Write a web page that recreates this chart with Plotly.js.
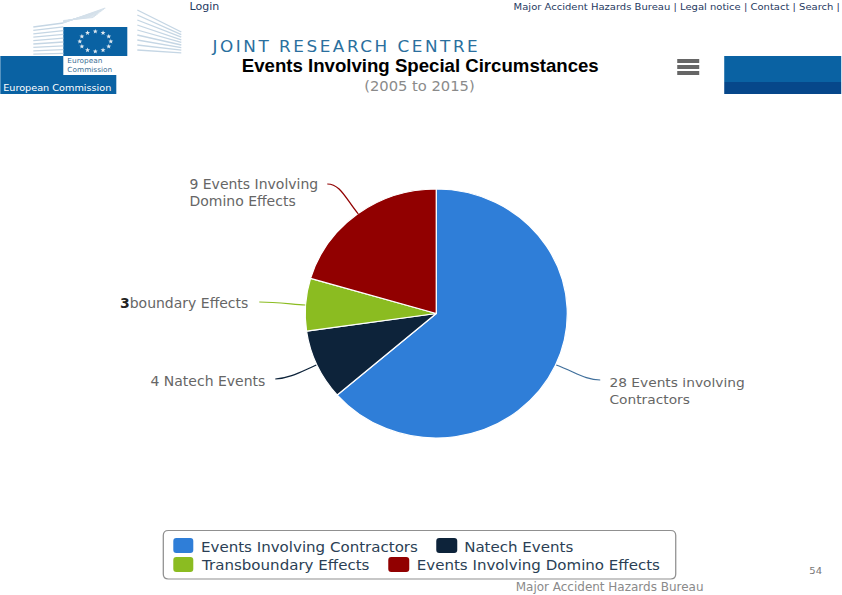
<!DOCTYPE html>
<html><head><meta charset="utf-8">
<script src="https://cdn.plot.ly/plotly-3.0.1.min.js"></script>
<style>html,body{margin:0;padding:0;background:#fff;overflow:hidden}
#chart{width:800px;height:595px;transform:scaleX(1.0525);transform-origin:0 0}
.annotation[data-index="2"] text{letter-spacing:2.4px}</style>
</head><body><div id="chart"></div>
<script>
var categories = ["Events Involving Contractors", "Natech Events", "Transboundary Effects", "Events Involving Domino Effects"];
var counts = [28, 4, 3, 9];
var sliceColors = ["#2f7ed8", "#0d233a", "#8bbc21", "#910000"];
var pieLabels = ["28 Events involving<br>Contractors", "4 Natech Events", "3boundary Effects", "9 Events Involving<br>Domino Effects"];

var W = 800, H = 595, SX = 1.0525;
var mL = 186/SX, mR = W - (686/SX), mT = 189, mB = 157;
var pw = W - mL - mR, ph = H - mT - mB;
function X(px){ return (px/SX - mL)/pw; }
function Y(py){ return 1 - (py - mT)/ph; }
function rect(x0,y0,x1,y1,c){ return {type:"rect",xref:"paper",yref:"paper",x0:X(x0),x1:X(x1),y0:Y(y0),y1:Y(y1),fillcolor:c,line:{width:0},layer:"below"}; }
function seg(x0,y0,x1,y1,c,w){ return {type:"line",xref:"paper",yref:"paper",x0:X(x0),x1:X(x1),y0:Y(y0),y1:Y(y1),line:{color:c,width:w},layer:"below"}; }
function curve(p,c,w){
  return {type:"path",xref:"paper",yref:"paper",
    path:"M"+X(p[0])+","+Y(p[1])+" C"+X(p[2])+","+Y(p[3])+" "+X(p[4])+","+Y(p[5])+" "+X(p[6])+","+Y(p[7]),
    line:{color:c,width:w},layer:"above"};
}
function roundBox(x0,y0,x1,y1,r,fill,lineColor,lineWidth){
  return {type:"path",xref:"paper",yref:"paper",layer:"below",fillcolor:fill,line:{color:lineColor,width:lineWidth},
   path:"M"+X(x0+r)+","+Y(y0)+" L"+X(x1-r)+","+Y(y0)+" Q"+X(x1)+","+Y(y0)+" "+X(x1)+","+Y(y0+r)+
        " L"+X(x1)+","+Y(y1-r)+" Q"+X(x1)+","+Y(y1)+" "+X(x1-r)+","+Y(y1)+
        " L"+X(x0+r)+","+Y(y1)+" Q"+X(x0)+","+Y(y1)+" "+X(x0)+","+Y(y1-r)+
        " L"+X(x0)+","+Y(y0+r)+" Q"+X(x0)+","+Y(y0)+" "+X(x0+r)+","+Y(y0)+" Z"};
}
function star(cx,cy,r,c){
  var p="";
  for (var n=0;n<10;n++){
    var a=n*Math.PI/5, rr=(n%2)?r*0.42:r;
    p+=(n?" L":"M")+X(cx+Math.sin(a)*rr)+","+Y(cy-Math.cos(a)*rr);
  }
  return {type:"path",xref:"paper",yref:"paper",layer:"below",path:p+" Z",fillcolor:c,line:{width:0}};
}
function txt(s,x,y,size,color,anchor,family){
  return {text:s,xref:"paper",yref:"paper",x:X(x),y:Y(y),xanchor:anchor||"left",yanchor:"middle",showarrow:false,align:anchor||"left",
    font:{family:family||"DejaVu Sans",size:size,color:color},borderpad:0};
}

var shapes = [
  rect(0,56,63,75,"#0a62a3"), rect(0,75,116,94,"#0a62a3"), rect(63,27,127,56,"#0a62a3"),
  rect(724,56,841,82,"#0a62a3"), rect(724,82,841,94,"#06478a"),
  rect(677,59,699,63,"#666666"), rect(677,65,699,69,"#666666"), rect(677,71,699,75,"#666666"),
  roundBox(163,530.5,675.5,579,5,"rgba(255,255,255,0)","#909090",1.2),
  curve([556,365,575,372,585,380,600,380],"#41709c",1.2),
  curve([275,379,290,378,300,372,316,365],"#0d233a",1.2),
  curve([259,302,275,302,290,304,305,305],"#8bbc21",1.2),
  curve([327,184,340,184,345,198,358,214],"#910000",1.2),
  // legend swatches
  roundBox(173,538,193,553,3,sliceColors[0],sliceColors[0],0),
  roundBox(436,538,457,553,3,sliceColors[1],sliceColors[1],0),
  roundBox(173,557,193,572,3,sliceColors[2],sliceColors[2],0),
  roundBox(388,557,409,572,3,sliceColors[3],sliceColors[3],0)
];
for (var i=0;i<9;i++){
  var yy = 27+i*3.4;
  shapes.push(seg(33,yy,63,yy-4+i*0.4,"#c5d6e4",1.3));
  shapes.push(seg(137,10+i*5,181,32+i*2.6,"#c5d6e4",1.3));
  shapes.push(seg(63,23-i*0.3,105-i*1.5,8+i*1.2,"#d4e0ea",1));
}
for (var k=0;k<12;k++){
  var ang = k*Math.PI/6;
  shapes.push(star(95+Math.sin(ang)*15.5,41.5-Math.cos(ang)*10,2.6,"#dfe8ef"));
}

var annotations = [
  txt("Login",188,6,10.5,"#1f3a5f"),
  txt("Major Accident Hazards Bureau | Legal notice | Contact | Search |",512,6,9.5,"#1f3a5f"),
  txt("JOINT RESEARCH CENTRE",210,46,16,"#2a6f9e"),
  txt("(2005 to 2015)",363,86,14,"#8a8a8a"),
  txt("European<br>Commission",66,65,7,"#3d6f96"),
  txt("European Commission",2,87,9.2,"#ffffff"),
  txt("54",815,570,9.5,"#777777","center"),
  txt("Major Accident Hazards Bureau",514,587,11.4,"#8a8a8a"),
  txt(pieLabels[3],188,193,13.3,"#666666"),
  txt(pieLabels[2].replace(/^3/,'<span style="color:#222222"><b>3</b></span>'),119,303,13.3,"#666666"),
  txt(pieLabels[1],149,381,13.3,"#666666"),
  txt(pieLabels[0],608,391,13.1,"#666666"),
  txt(categories[0],200,547,14.3,"#2b3f55"),
  txt(categories[1],463,547,14.3,"#2b3f55"),
  txt(categories[2],200,565,14.3,"#2b3f55"),
  txt(categories[3],415,565,14.3,"#2b3f55")
];

var data = [{
  type:"pie", labels:categories, values:counts, sort:false, direction:"clockwise", rotation:0,
  marker:{colors:sliceColors,line:{color:"#ffffff",width:1.2}},
  textinfo:"none", hoverinfo:"label+value", domain:{x:[0,1],y:[0,1]}
}];
var layout = {
  width:W, height:H, autosize:false,
  paper_bgcolor:"#ffffff", plot_bgcolor:"#ffffff",
  margin:{l:mL,r:mR,t:mT,b:mB,autoexpand:false,pad:0},
  title:{text:"<b>Events Involving Special Circumstances</b>",font:{family:"Liberation Sans",size:17.7,color:"#000000"},
    xref:"paper",yref:"container",x:X(420),xanchor:"center",y:1-66/H,yanchor:"middle"},
  showlegend:false,
  shapes:shapes, annotations:annotations
};
Plotly.newPlot("chart",data,layout,{displayModeBar:false});
</script></body></html>
